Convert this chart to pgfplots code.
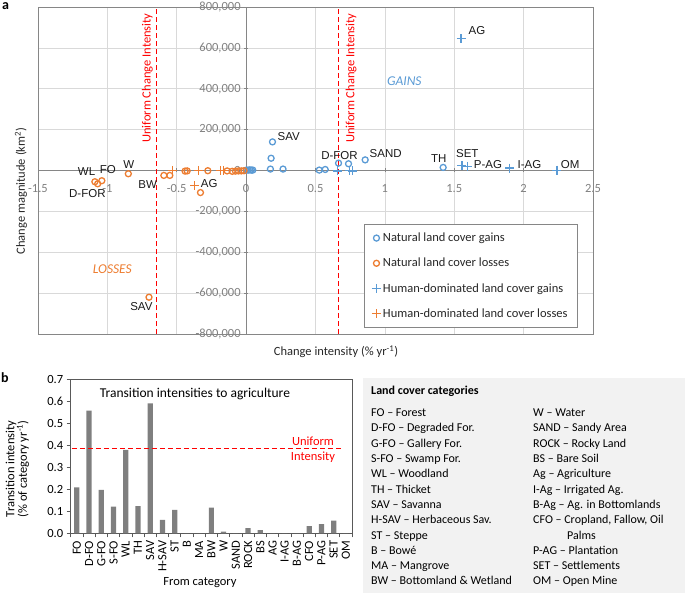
\documentclass[border=0pt]{standalone}
\usepackage{fontspec}
\setmainfont{Carlito}
\newfontfamily\arial{Liberation Sans}
\usepackage{pgfplots}
\pgfplotsset{compat=1.18}
\definecolor{cblue}{HTML}{5B9BD5}
\definecolor{corange}{HTML}{ED7D31}
\definecolor{axgray}{HTML}{868686}
\definecolor{grgray}{HTML}{D9D9D9}
\definecolor{tkgray}{HTML}{808080}
\definecolor{bargray}{HTML}{7F7F7F}
\definecolor{boxgray}{HTML}{F2F2F2}
\definecolor{ured}{HTML}{FF0000}
\definecolor{lbl}{HTML}{1A1A1A}
\newcommand{\fsz}[1]{\fontsize{#1}{#1}\selectfont}
\begin{document}
\begin{tikzpicture}
\useasboundingbox (0pt,0pt) rectangle (685pt,-593pt);
% ---------------- panel a ----------------
\begin{axis}[
  at={(38pt,-7pt)}, anchor=north west,
  scale only axis, width=555pt, height=327pt,
  xmin=-1.5, xmax=2.5, ymin=-800000, ymax=800000,
  axis lines=middle,
  axis line style={draw=axgray, line width=0.8pt, -},
  xtick={-1.5,-1,-0.5,0,0.5,1,1.5,2,2.5},
  ytick={-800000,-600000,-400000,-200000,0,200000,400000,600000,800000},
  hide obscured x ticks=false, hide obscured y ticks=false,
  grid=major, grid style={draw=grgray, line width=0.7pt},
  major tick length=4pt, tick align=center,
  tick style={draw=axgray, line width=0.7pt},
  /pgf/number format/assume math mode=true,
  scaled y ticks=false,
  ticklabel style={font=\fsz{12.5}, text=tkgray},
  yticklabel style={/pgf/number format/fixed, /pgf/number format/1000 sep={,}},
  xticklabel style={yshift=-8pt},
  clip=false,
  legend style={at={(0.973,0.018)}, anchor=south east, draw=axgray, line width=0.8pt,
    font=\fsz{12.5}, row sep=11pt, inner xsep=8pt, inner ysep=7pt, fill=white,
    text=black!85},
  legend cell align=left,
]
\draw[axgray, line width=0.8pt] (rel axis cs:0,0) rectangle (rel axis cs:1,1);
\addplot[only marks, mark=o, mark size=3pt, line width=1.3pt, color=cblue] coordinates {
 (0.19,140000) (0.18,60000) (0.175,7000) (0.266,7000) (0.527,2000) (0.57,5000)
 (0.666,36000) (0.738,33000) (0.858,52000) (1.42,15000)
 (0.003,2000) (0.015,2000) (0.027,3000) (0.038,2000) (0.048,2000)
};
\addlegendentry{Natural land cover gains}
\addplot[only marks, mark=o, mark size=3pt, line width=1.3pt, color=corange] coordinates {
 (-1.09,-55000) (-1.07,-65000) (-1.04,-50000) (-0.849,-16000)
 (-0.593,-24000) (-0.55,-24000) (-0.44,-3000) (-0.425,-2000)
 (-0.276,-1000) (-0.137,-2000) (-0.10,-4000) (-0.077,-3000)
 (-0.055,-2000) (-0.035,-2000) (-0.015,-1000)
 (-0.70,-620000) (-0.329,-108000)
};
\addlegendentry{Natural land cover losses}
\addplot[only marks, mark=+, mark size=4.5pt, line width=1.3pt, color=cblue] coordinates {
 (1.549,645000) (1.555,24000) (1.594,20000) (1.90,12000) (2.24,1500)
 (0.66,-2000) (0.745,1000) (0.765,-2000)
};
\addlegendentry{Human-dominated land cover gains}
\addplot[only marks, mark=+, mark size=4.5pt, line width=1.3pt, color=corange] coordinates {
 (-0.37,-73000) (-0.53,0) (-0.345,0) (-0.185,0) (-0.161,0)
};
\addlegendentry{Human-dominated land cover losses}
% uniform intensity lines
\draw[ured, line width=1.2pt, dash pattern=on 5pt off 3pt] (axis cs:-0.645,-800000) -- (axis cs:-0.645,800000);
\draw[ured, line width=1.2pt, dash pattern=on 5pt off 3pt] (axis cs:0.666,-800000) -- (axis cs:0.666,800000);
\node[rotate=90, text=ured, font=\fsz{12.5}] at (axis cs:-0.712,452000) {Uniform Change Intensity};
\node[rotate=90, text=ured, font=\fsz{12.5}] at (axis cs:0.756,452000) {Uniform Change Intensity};
% point labels
\begin{scope}[every node/.style={font=\arial\fsz{11.5}, text=lbl, inner sep=0pt}]
\node at (axis cs:-1.150,-4900) {WL};
\node at (axis cs:-0.997,5900) {FO};
\node at (axis cs:-0.845,30000) {W};
\node at (axis cs:-1.144,-113000) {D-FOR};
\node at (axis cs:-0.709,-70000) {BW};
\node at (axis cs:-0.266,-62700) {AG};
\node at (axis cs:-0.755,-668000) {SAV};
\node at (axis cs:0.307,166000) {SAV};
\node at (axis cs:0.673,72000) {D-FOR};
\node at (axis cs:1.006,82700) {SAND};
\node at (axis cs:1.389,57300) {TH};
\node at (axis cs:1.594,82700) {SET};
\node at (axis cs:1.743,31300) {P-AG};
\node at (axis cs:2.042,31300) {I-AG};
\node at (axis cs:2.335,31300) {OM};
\node at (axis cs:1.664,684000) {AG};
\end{scope}
\node[font=\fsz{13.5}\itshape, text=cblue] at (axis cs:1.140,435700) {GAINS};
\node[font=\fsz{13.5}\itshape, text=corange] at (axis cs:-0.964,-482000) {LOSSES};
\end{axis}
\node[font=\fsz{12.5}, text=black!85] at (21pt,-191pt) [rotate=90] {Change magnitude (km\textsuperscript{2})};
\node[font=\fsz{12.5}, text=black!85] at (336pt,-352pt) {Change intensity (\% yr\textsuperscript{-1})};
\node[font=\fsz{14}\bfseries, anchor=north west, inner sep=0pt] at (2pt,-2.5pt) {a};
% ---------------- panel b ----------------
\begin{axis}[
  at={(70.7pt,-533.3pt)}, anchor=south west,
  scale only axis, width=281.3pt, height=154pt,
  xmin=-0.5, xmax=22.5, ymin=0, ymax=0.7,
  ybar, bar width=5.2pt,
  xtick={0,1,...,22},
  minor xtick={-0.5,0.5,...,22.5},
  xticklabels={FO,D-FO,G-FO,S-FO,WL,TH,SAV,H-SAV,ST,B,MA,BW,W,SAND,ROCK,BS,AG,I-AG,B-AG,CFO,P-AG,SET,OM},
  x tick label style={rotate=90, anchor=east, font=\fsz{12.5}},
  ytick={0,0.1,0.2,0.3,0.4,0.5,0.6,0.7},
  /pgf/number format/assume math mode=true,
  yticklabel style={/pgf/number format/fixed, /pgf/number format/fixed zerofill, /pgf/number format/precision=1, font=\fsz{12.5}},
  axis line style={draw=black!65, line width=0.7pt},
  xtick pos=bottom, ytick pos=left, tick align=outside,
  major tick length=4pt, minor tick length=4pt,
  major x tick style={draw=none},
  minor x tick style={draw=black!65, line width=0.7pt},
  ytick style={draw=black!65, line width=0.7pt},
  clip=false,
]
\addplot[fill=bargray, draw=none] coordinates {
 (0,0.209) (1,0.558) (2,0.197) (3,0.121) (4,0.379) (5,0.124) (6,0.591) (7,0.061)
 (8,0.106) (9,0) (10,0) (11,0.117) (12,0.008) (13,0) (14,0.023) (15,0.015)
 (16,0) (17,0) (18,0) (19,0.033) (20,0.042) (21,0.058) (22,0)
};
\draw[ured, line width=1.1pt, dash pattern=on 5pt off 3pt] (axis cs:-0.4,0.387) -- (axis cs:21.8,0.387);
\end{axis}
\node[font=\fsz{13.5}, anchor=base] at (195pt,-397pt) {Transition intensities to agriculture};
\node[font=\fsz{12.5}, text=ured, anchor=base] at (313pt,-445pt) {Uniform};
\node[font=\fsz{12.5}, text=ured, anchor=base] at (313pt,-460pt) {Intensity};
\node[font=\fsz{12.5}, rotate=90, align=center] at (17.5pt,-469pt) {Transition intensity\\(\% of category yr\textsuperscript{-1})};
\node[font=\fsz{12.5}] at (200pt,-583pt) {From category};
\node[font=\fsz{14}\bfseries, anchor=west, inner sep=0pt] at (1pt,-378pt) {b};
% ---------------- categories box ----------------
\fill[boxgray] (363pt,-378pt) rectangle (685pt,-593pt);
\begin{scope}[every node/.style={font=\fsz{12}, anchor=base west, inner sep=0pt}]
\node[font=\fsz{12}\bfseries] at (371pt,-394.3pt) {Land cover categories};
\node at (371pt,-416.6pt) {FO – Forest};
\node at (371pt,-431.9pt) {D-FO – Degraded For.};
\node at (371pt,-447.2pt) {G-FO – Gallery For.};
\node at (371pt,-462.5pt) {S-FO – Swamp For.};
\node at (371pt,-477.8pt) {WL – Woodland};
\node at (371pt,-493.1pt) {TH – Thicket};
\node at (371pt,-508.4pt) {SAV – Savanna};
\node at (371pt,-523.7pt) {H-SAV – Herbaceous Sav.};
\node at (371pt,-539.0pt) {ST – Steppe};
\node at (371pt,-554.3pt) {B – Bowé};
\node at (371pt,-569.6pt) {MA – Mangrove};
\node at (371pt,-584.9pt) {BW – Bottomland \& Wetland};
\node at (533pt,-416.6pt) {W – Water};
\node at (533pt,-431.9pt) {SAND – Sandy Area};
\node at (533pt,-447.2pt) {ROCK – Rocky Land};
\node at (533pt,-462.5pt) {BS – Bare Soil};
\node at (533pt,-477.8pt) {Ag – Agriculture};
\node at (533pt,-493.1pt) {I-Ag – Irrigated Ag.};
\node at (533pt,-508.4pt) {B-Ag – Ag. in Bottomlands};
\node at (533pt,-523.7pt) {CFO – Cropland, Fallow, Oil};
\node at (567pt,-539.0pt) {Palms};
\node at (533pt,-554.3pt) {P-AG – Plantation};
\node at (533pt,-569.6pt) {SET – Settlements};
\node at (533pt,-584.9pt) {OM – Open Mine};
\end{scope}
\end{tikzpicture}
\end{document}
